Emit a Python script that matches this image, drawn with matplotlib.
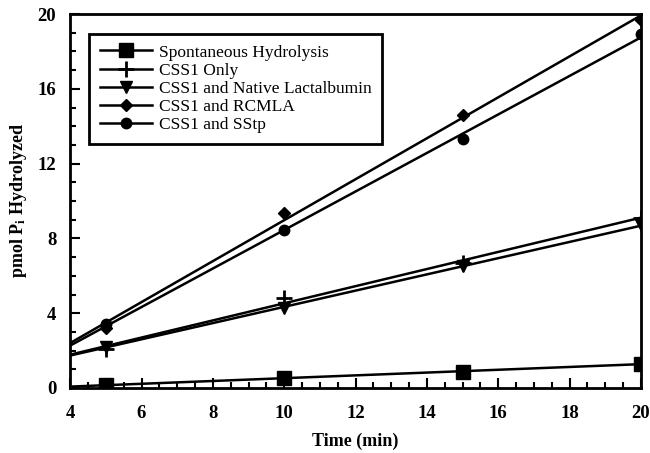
import numpy as np
import matplotlib
matplotlib.use('Agg')
import matplotlib.pyplot as plt
from matplotlib.ticker import MultipleLocator

plt.rcParams['font.family'] = ['Liberation Serif', 'DejaVu Serif']
plt.rcParams['mathtext.fontset'] = 'custom'
plt.rcParams['mathtext.rm'] = 'Liberation Serif:bold'
plt.rcParams['mathtext.it'] = 'Liberation Serif:bold'

time_min = [5, 10, 15, 20]
spontaneous = [0.15, 0.55, 0.85, 1.3]
css1_only = [2.1, 4.8, 6.7, 9.1]
css1_native = [2.2, 4.3, 6.5, 8.7]
css1_rcmla = [3.2, 9.35, 14.6, 19.7]
css1_sstp = [3.4, 8.45, 13.3, 18.95]

labels = ['Spontaneous Hydrolysis', 'CSS1 Only', 'CSS1 and Native Lactalbumin',
          'CSS1 and RCMLA', 'CSS1 and SStp']
series = [spontaneous, css1_only, css1_native, css1_rcmla, css1_sstp]
markers = ['s', '+', 'v', 'D', 'o']
msizes = [10, 12, 8, 6.5, 7.5]

fig = plt.figure(figsize=(6.5, 4.53), dpi=100)
ax = fig.add_axes([0.108, 0.1435, 0.878, 0.8255])

x = np.array(time_min, dtype=float)
xfit = np.array([4.0, 20.0])
for ys, m, ms, lab in zip(series, markers, msizes, labels):
    slope, icpt = np.polyfit(x, ys, 1)
    ax.plot(xfit, slope * xfit + icpt, color='black', lw=1.8, zorder=2)
    ax.plot(x, ys, linestyle='none', marker=m, ms=ms, color='black',
            mew=2 if m == '+' else 1, zorder=3)
    # legend proxy
    ax.plot([], [], color='black', lw=1.8, marker=m, ms=ms, mew=2 if m == '+' else 1, label=lab)

ax.set_xlim(4, 20)
ax.set_ylim(0, 20)
ax.xaxis.set_major_locator(MultipleLocator(2))
ax.xaxis.set_minor_locator(MultipleLocator(0.5))
ax.yaxis.set_major_locator(MultipleLocator(4))
ax.yaxis.set_minor_locator(MultipleLocator(1))
ax.tick_params(which='both', direction='in', width=1.5)
ax.tick_params(which='major', length=7, labelsize=13.5)
ax.tick_params(axis='x', which='major', pad=12)
ax.tick_params(axis='y', which='major', pad=10)
ax.tick_params(which='minor', length=4)
for lbl in ax.get_xticklabels() + ax.get_yticklabels():
    lbl.set_fontweight('bold')
for sp in ax.spines.values():
    sp.set_linewidth(2)

ax.set_xlabel('Time (min)', fontsize=13, fontweight='bold', labelpad=8)
ax.set_ylabel(r'pmol P$_\mathrm{i}$ Hydrolyzed', fontsize=13, fontweight='bold', labelpad=6)

leg = ax.legend(loc='upper left', bbox_to_anchor=(0.018, 0.97), fancybox=False,
                framealpha=1, edgecolor='black', fontsize=12.5, handlelength=3,
                labelspacing=0.12, borderpad=0.6, handletextpad=0.4)
leg.get_frame().set_linewidth(2)

fig.savefig('out.png', dpi=100)
